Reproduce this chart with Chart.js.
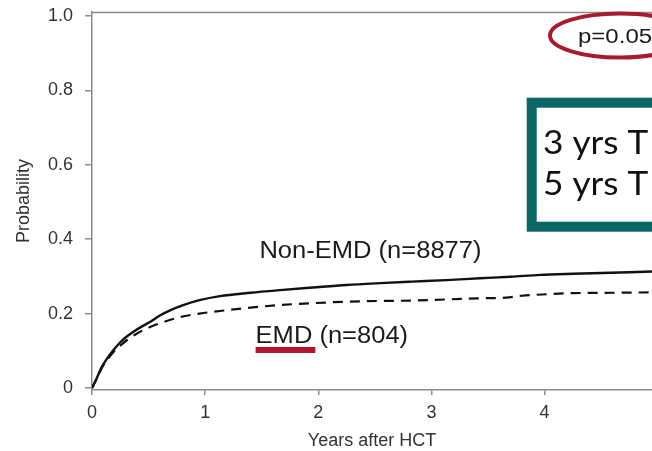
<!DOCTYPE html>
<html>
<head>
<meta charset="utf-8">
<script src="https://cdn.jsdelivr.net/npm/chart.js@4/dist/chart.umd.min.js"></script>
<style>
  html, body { margin: 0; padding: 0; background: #fff; overflow: hidden; }
  #wrap { width: 652px; height: 451px; }
</style>
</head>
<body>
<div id="wrap"><canvas id="chart" width="652" height="451"></canvas></div>
<script>
// Cumulative incidence after HCT, by group
const YEARS_NON_EMD = [0, 0.04, 0.087, 0.14, 0.19, 0.25, 0.31, 0.37, 0.45, 0.52, 0.6, 0.7, 0.8, 0.95, 1.13, 1.4, 1.66, 1.95, 2.25, 2.55, 2.83, 3.13, 3.43, 3.7, 3.96, 4.25, 4.5, 4.75, 4.95];
const PROB_NON_EMD  = [0, 0.025, 0.057, 0.082, 0.102, 0.123, 0.139, 0.152, 0.167, 0.179, 0.195, 0.21, 0.222, 0.236, 0.247, 0.256, 0.263, 0.27, 0.277, 0.282, 0.286, 0.29, 0.295, 0.299, 0.304, 0.307, 0.309, 0.311, 0.313];

const YEARS_EMD = [0, 0.04, 0.087, 0.14, 0.19, 0.25, 0.31, 0.38, 0.455, 0.53, 0.6, 0.77, 0.95, 1.13, 1.4, 1.66, 1.95, 2.25, 2.55, 2.83, 3.13, 3.43, 3.66, 3.8, 4.02, 4.25, 4.6, 4.95];
const PROB_EMD  = [0, 0.024, 0.054, 0.078, 0.097, 0.114, 0.129, 0.143, 0.156, 0.166, 0.174, 0.19, 0.2, 0.207, 0.216, 0.223, 0.228, 0.232, 0.234, 0.235, 0.238, 0.241, 0.243, 0.248, 0.252, 0.255, 0.256, 0.257];

const X_TICKS = [0, 1, 2, 3, 4];
const X_TICK_LABELS = ['0', '1', '2', '3', '4'];
const Y_TICKS = [0, 0.2, 0.4, 0.6, 0.8, 1.0];
const Y_TICK_LABELS = ['0', '0.2', '0.4', '0.6', '0.8', '1.0'];

const GROUP_LABELS = ['Non-EMD (n=8877)', 'EMD (n=804)'];
const P_VALUE_TEXT = 'p=0.05';
const SUMMARY_LINES = ['3 yrs T', '5 yrs T'];

const AXIS_GREY = '#8c8c8c';
const TEXT_GREY = '#333333';
const FONT = "'Liberation Sans', Arial, sans-serif";

const toPoints = (xs, ys) => xs.map((x, i) => ({ x: x, y: ys[i] }));

// text drawn slightly wider than the font's natural width
function wideText(ctx, text, x, y, sx) {
  ctx.save();
  ctx.translate(x, y);
  ctx.scale(sx, 1);
  ctx.fillText(text, 0, 0);
  ctx.restore();
  return ctx.measureText(text).width * sx;
}

// Labels, callouts and the open top frame line
const annotations = {
  id: 'annotations',
  afterDraw(chart) {
    const { ctx, chartArea, scales } = chart;
    const xs = scales.x, ys = scales.y;
    ctx.save();

    // top frame line (plot runs past the right edge)
    ctx.strokeStyle = AXIS_GREY;
    ctx.lineWidth = 1.5;
    ctx.beginPath();
    ctx.moveTo(chartArea.left, chartArea.top + 0.5);
    ctx.lineTo(chart.width, chartArea.top + 0.5);
    ctx.stroke();

    // group labels
    ctx.fillStyle = '#1a1a1a';
    ctx.font = '23px ' + FONT;
    ctx.textBaseline = 'alphabetic';
    ctx.textAlign = 'left';
    wideText(ctx, GROUP_LABELS[0], xs.getPixelForValue(1.48), ys.getPixelForValue(0.349), 1.11);
    const ex = xs.getPixelForValue(1.446), ey = ys.getPixelForValue(0.121);
    wideText(ctx, GROUP_LABELS[1], ex, ey, 1.11);
    // underline beneath "EMD"
    const emdW = ctx.measureText('EMD').width * 1.11;
    ctx.fillStyle = '#b0152f';
    ctx.fillRect(ex, ey + 4, emdW + 3, 6);

    // p-value with ellipse
    ctx.fillStyle = '#1a1a1a';
    ctx.font = '20px ' + FONT;
    wideText(ctx, P_VALUE_TEXT, 578, 43, 1.2);
    ctx.strokeStyle = '#a51c30';
    ctx.lineWidth = 4;
    ctx.beginPath();
    ctx.ellipse(620, 35.5, 70, 22, 0, 0, Math.PI * 2);
    ctx.stroke();

    // summary box
    ctx.fillStyle = '#ffffff';
    ctx.fillRect(532, 102.5, 140, 124);
    ctx.strokeStyle = '#0a6766';
    ctx.lineWidth = 10;
    ctx.strokeRect(531.7, 102.7, 150, 124);
    ctx.fillStyle = '#111111';
    ctx.font = "32px Lato, 'Open Sans', sans-serif";
    wideText(ctx, SUMMARY_LINES[0], 543, 154, 1.1);
    wideText(ctx, SUMMARY_LINES[1], 543, 195, 1.1);

    ctx.restore();
  }
};

new Chart(document.getElementById('chart'), {
  type: 'line',
  data: {
    datasets: [
      {
        label: 'Non-EMD',
        data: toPoints(YEARS_NON_EMD, PROB_NON_EMD),
        borderColor: '#111111',
        borderWidth: 2.4,
        pointRadius: 0,
        cubicInterpolationMode: 'monotone',
        fill: false
      },
      {
        label: 'EMD',
        data: toPoints(YEARS_EMD, PROB_EMD),
        borderColor: '#111111',
        borderWidth: 2.2,
        borderDash: [10, 7],
        pointRadius: 0,
        cubicInterpolationMode: 'monotone',
        fill: false
      }
    ]
  },
  options: {
    responsive: false,
    animation: false,
    devicePixelRatio: 1,
    layout: { padding: { top: 12, left: 0, right: 0, bottom: 0 } },
    plugins: { legend: { display: false }, tooltip: { enabled: false } },
    scales: {
      x: {
        type: 'linear',
        min: 0,
        max: 4.95,
        afterBuildTicks: (s) => { s.ticks = X_TICKS.map(v => ({ value: v })); },
        afterFit: (s) => { s.height = 61; s.paddingLeft = 0; s.paddingRight = 0; },
        ticks: {
          autoSkip: false,
          maxRotation: 0,
          padding: 7,
          color: TEXT_GREY,
          font: { family: FONT, size: 18 },
          callback: (v) => X_TICK_LABELS[X_TICKS.indexOf(v)]
        },
        grid: { drawOnChartArea: false, drawTicks: true, tickLength: 5, color: AXIS_GREY, lineWidth: 1.5 },
        border: { display: true, color: AXIS_GREY, width: 1.5 },
        title: {
          display: true,
          text: 'Years after HCT',
          color: TEXT_GREY,
          font: { family: FONT, size: 18, lineHeight: 1 },
          padding: { top: 0, bottom: 0.5 }
        }
      },
      y: {
        type: 'linear',
        min: -0.0054,
        max: 1.0108,
        afterBuildTicks: (s) => { s.ticks = Y_TICKS.map(v => ({ value: v })); },
        afterFit: (s) => { s.width = 92; s.paddingTop = 0; s.paddingBottom = 0; },
        ticks: {
          autoSkip: false,
          padding: 12,
          color: TEXT_GREY,
          font: { family: FONT, size: 18 },
          callback: (v) => Y_TICK_LABELS[Y_TICKS.indexOf(v)]
        },
        grid: { drawOnChartArea: false, drawTicks: true, tickLength: 7, color: AXIS_GREY, lineWidth: 1.5 },
        border: { display: true, color: AXIS_GREY, width: 1.5 },
        title: {
          display: true,
          text: 'Probability',
          color: TEXT_GREY,
          font: { family: FONT, size: 18, lineHeight: 1 },
          padding: { top: 15, bottom: 0 }
        }
      }
    }
  },
  plugins: [annotations]
});
</script>
</body>
</html>
